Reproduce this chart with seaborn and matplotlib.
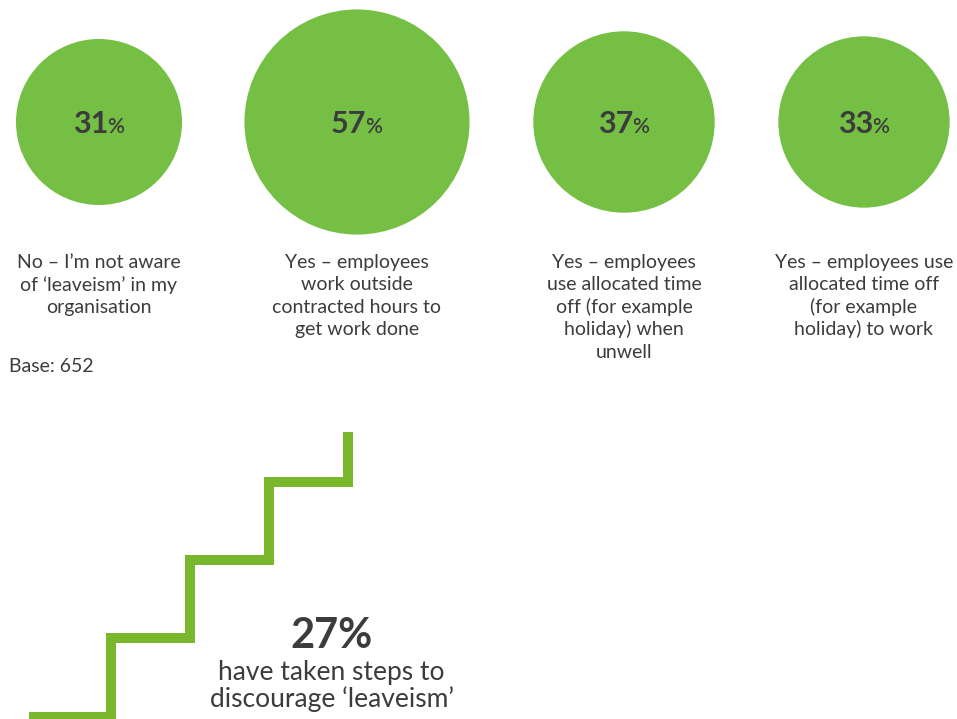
import matplotlib
matplotlib.use("Agg")
import matplotlib.pyplot as plt
import seaborn as sns
import pandas as pd
import numpy as np

# Survey answers on 'leaveism'
answers = [
    "No – I’m not aware\nof ‘leaveism’ in my\norganisation",
    "Yes – employees\nwork outside\ncontracted hours to\nget work done",
    "Yes – employees\nuse allocated time\noff (for example\nholiday) when\nunwell",
    "Yes – employees use\nallocated time off\n(for example\nholiday) to work",
]
shares = [31, 57, 37, 33]
base_n = 652

# Headline figure shown beside the staircase
steps_share = 27
steps_text = ["have taken steps to", "discourage ‘leaveism’"]

# Layout (pixel coordinates on a 957x719 canvas)
W, H = 957, 719
centers_x = [99, 357, 624, 864]
center_y = 122
radius_per_sqrt = 14.91          # bubble radius (px) per sqrt(percentage)
stair_x = [29, 110.7, 190, 269.3, 348.3]
stair_y = [716.5, 638.3, 560, 481.7, 432.3]

GREEN = "#74BF44"
STAIR = "#7AB72C"
TEXT = "#3C3C3C"

sns.set_style("white")
plt.rcParams["font.family"] = ["Lato", "DejaVu Sans"]

fig = plt.figure(figsize=(W / 100, H / 100), dpi=100)
ax = fig.add_axes([0, 0, 1, 1])

df = pd.DataFrame({"x": centers_x, "y": [center_y] * 4, "share": shares})
# marker area (pt^2) proportional to the percentage
px_to_pt = 72 / 100
max_r = radius_per_sqrt * np.sqrt(max(shares))
max_s = (2 * max_r * px_to_pt) ** 2
sns.scatterplot(data=df, x="x", y="y", size="share",
                sizes=(0, max_s), size_norm=(0, max(shares)),
                color=GREEN, linewidth=0, legend=False, ax=ax, zorder=2)

# staircase graphic
stairs = pd.DataFrame({"x": stair_x, "y": stair_y})
sns.lineplot(data=stairs, x="x", y="y", drawstyle="steps-post", sort=False,
             color=STAIR, linewidth=7.2, ax=ax, estimator=None,
             solid_capstyle="butt", solid_joinstyle="miter")

ax.set_xlim(0, W)
ax.set_ylim(H, 0)
ax.set_axis_off()

renderer = fig.canvas.get_renderer()


def text_width(s, **kw):
    t = ax.text(0, 0, s, **kw)
    bb = t.get_window_extent(renderer=renderer)
    t.remove()
    return bb.width


# percentage labels inside the bubbles
num_kw = dict(fontsize=22, fontweight="bold", color=TEXT)
pct_kw = dict(fontsize=15, fontweight="semibold", color=TEXT)
for cx, v in zip(centers_x, shares):
    ns = f"{v}"
    wn = text_width(ns, **num_kw)
    wp = text_width("%", **pct_kw)
    x0 = cx - (wn + wp) / 2
    ax.text(x0, 133, ns, ha="left", va="baseline", zorder=3, **num_kw)
    ax.text(x0 + wn - 1, 133, "%", ha="left", va="baseline", zorder=3, **pct_kw)

# answer captions
line_gap = 22.5
for cx, lab in zip(centers_x, answers):
    for i, line in enumerate(lab.split("\n")):
        ax.text(cx, 268 + i * line_gap, line, ha="center", va="baseline",
                fontsize=14, color=TEXT)

ax.text(9, 372, f"Base: {base_n}", ha="left", va="baseline",
        fontsize=14, color=TEXT)

ax.text(331.5, 648, f"{steps_share}%", ha="center", va="baseline",
        fontsize=30, fontweight="bold", color=TEXT)
for i, line in enumerate(steps_text):
    ax.text(331.5, 680 + i * 27, line, ha="center", va="baseline",
            fontsize=19, color=TEXT)

fig.savefig("out.png", dpi=100)
